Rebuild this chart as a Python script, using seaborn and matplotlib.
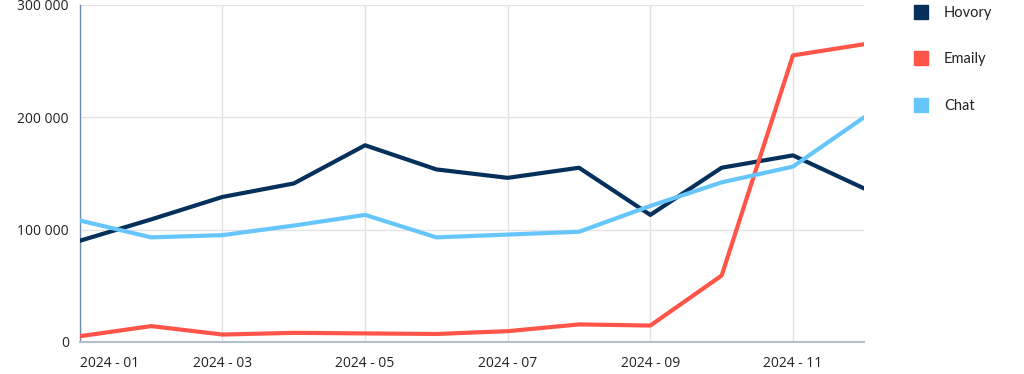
import matplotlib
matplotlib.use("Agg")
import matplotlib.pyplot as plt
from matplotlib.lines import Line2D
import seaborn as sns
import pandas as pd
import numpy as np

# Data
MONTHS = ['2024 - 01', '2024 - 02', '2024 - 03', '2024 - 04', '2024 - 05', '2024 - 06',
          '2024 - 07', '2024 - 08', '2024 - 09', '2024 - 10', '2024 - 11', '2024 - 12']
HOVORY = [90000, 109000, 129000, 141000, 175000, 153500, 146000, 155000, 113000, 155000, 166000, 136500]
EMAILY = [5000, 14000, 6500, 8000, 7500, 7000, 9500, 15500, 14500, 59000, 255000, 265000]
CHAT = [108000, 93000, 95000, 103500, 113000, 93000, 95500, 98000, 121000, 142000, 156000, 200000]
SERIES = ['Hovory', 'Emaily', 'Chat']
COLORS = ['#06305c', '#ff5548', '#66c6fc']
Y_TICKS = [0, 100000, 200000, 300000]


def build_frame():
    rows = []
    for name, vals in zip(SERIES, [HOVORY, EMAILY, CHAT]):
        for i, v in enumerate(vals):
            rows.append({'month': i, 'value': v, 'series': name})
    return pd.DataFrame(rows)


def main():
    sns.set_style('white')
    plt.rcParams['font.family'] = ['Open Sans', 'DejaVu Sans']

    df = build_frame()
    fig = plt.figure(figsize=(10.24, 3.74), dpi=100)
    ax = fig.add_axes([0.078, 0.086, 0.766, 0.901])

    sns.lineplot(data=df, x='month', y='value', hue='series', hue_order=SERIES,
                 palette=COLORS, linewidth=3, ax=ax, legend=False, zorder=3)

    ax.set_xlim(0, len(MONTHS) - 1)
    ax.set_ylim(0, 300000)
    tick_pos = list(range(0, len(MONTHS), 2))
    ax.set_xticks(tick_pos)
    ax.set_xticklabels([MONTHS[i] for i in tick_pos], fontsize=10, color='#222222')
    ax.get_xticklabels()[0].set_ha('left')
    ax.set_yticks(Y_TICKS)
    ax.set_yticklabels([f'{v:,}'.replace(',', ' ') for v in Y_TICKS], fontsize=10, color='#222222')
    ax.tick_params(axis='both', length=0)
    ax.tick_params(axis='x', pad=10)
    ax.tick_params(axis='y', pad=8)

    ax.grid(True, color='#e3e3e3', linewidth=1)
    ax.set_xlabel('')
    ax.set_ylabel('')

    for s in ['top', 'right']:
        ax.spines[s].set_visible(False)
    ax.spines['left'].set_color('#6f8aaa')
    ax.spines['left'].set_linewidth(1)
    ax.spines['bottom'].set_color('#b3bfcd')
    ax.spines['bottom'].set_linewidth(1.5)

    handles = [Line2D([0], [0], marker='s', linestyle='', markersize=10,
                      markerfacecolor=c, markeredgecolor=c) for c in COLORS]
    leg = fig.legend(handles, SERIES, loc='upper left', bbox_to_anchor=(0.872, 1.02),
                     frameon=False, labelspacing=2.25, handletextpad=0.6,
                     prop={'family': ['Lato', 'DejaVu Sans'], 'size': 10.5})
    for t in leg.get_texts():
        t.set_color('#222222')

    fig.savefig('out.png', dpi=100)


if __name__ == '__main__':
    main()
